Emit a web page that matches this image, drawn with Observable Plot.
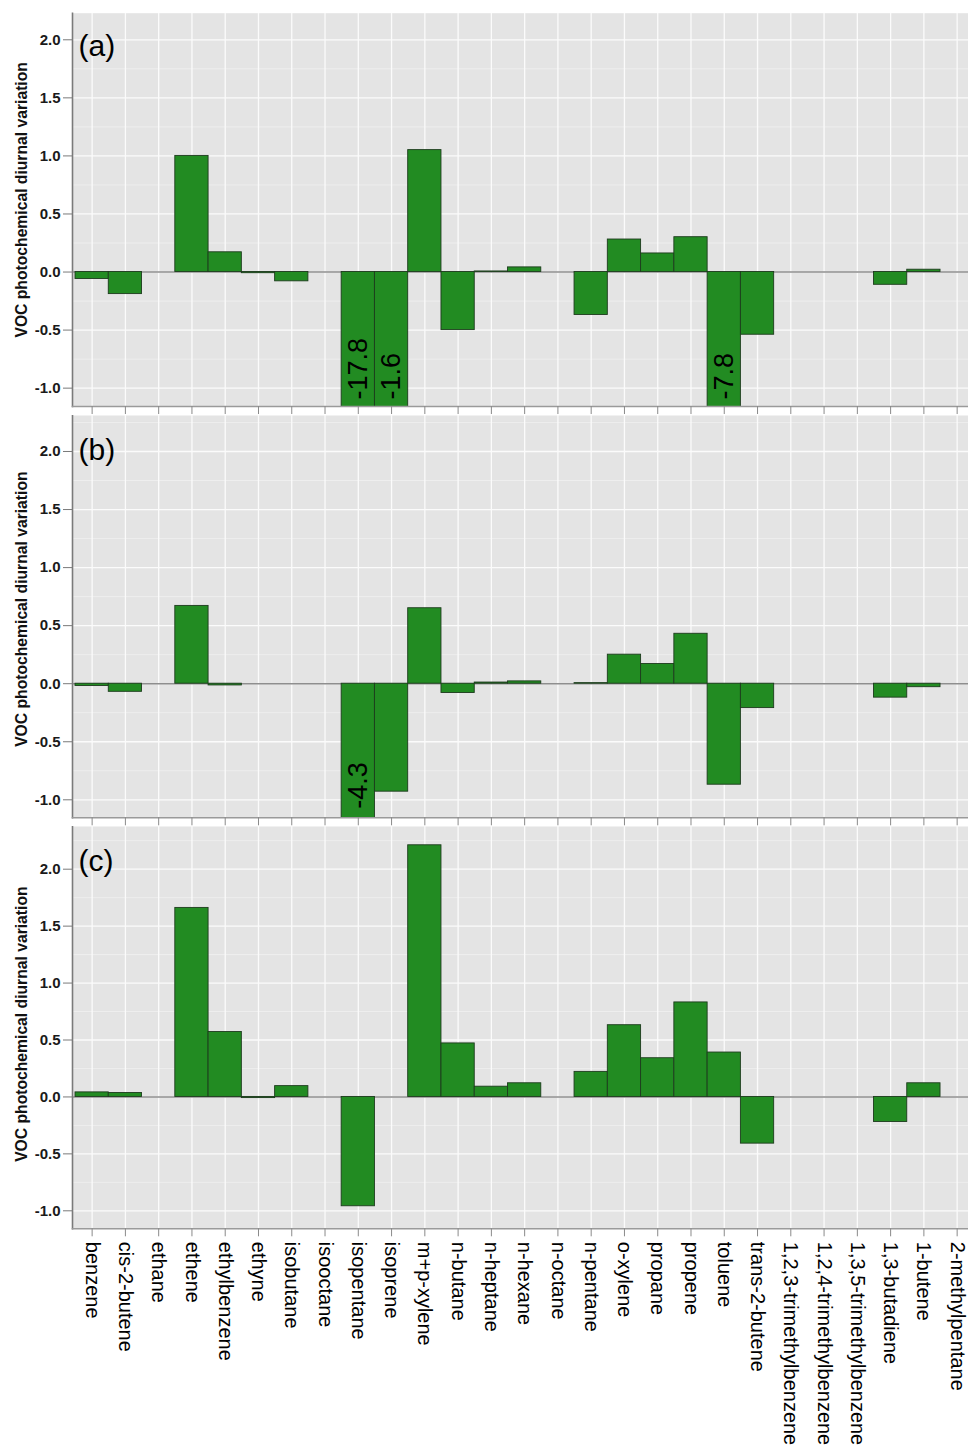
<!DOCTYPE html>
<html>
<head>
<meta charset="utf-8">
<script src="https://cdn.jsdelivr.net/npm/d3@7"></script>
<script src="https://cdn.jsdelivr.net/npm/@observablehq/plot@0.6"></script>
<style>
  body { margin: 0; background: #fff; }
  #chart svg { display: block; }
</style>
</head>
<body>
<div id="chart"></div>
<script>
// VOC species along the shared x axis
const compounds = [
  "benzene", "cis-2-butene", "ethane", "ethene", "ethylbenzene", "ethyne",
  "isobutane", "isooctane", "isopentane", "isoprene", "m+p-xylene", "n-butane",
  "n-heptane", "n-hexane", "n-octane", "n-pentane", "o-xylene", "propane",
  "propene", "toluene", "trans-2-butene", "1,2,3-trimethylbenzene",
  "1,2,4-trimethylbenzene", "1,3,5-trimethylbenzene", "1,3-butadiene",
  "1-butene", "2-methylpentane"
];

// Photochemical diurnal variation per species (null = no bar)
const seriesA = [-0.06, -0.19, null, 1.00, 0.17, -0.01, -0.08, null, -17.8, -1.6,
  1.05, -0.50, 0.005, 0.04, null, -0.37, 0.28, 0.16, 0.30, -7.8, -0.54,
  null, null, null, -0.11, 0.02, null];
const seriesB = [-0.02, -0.07, null, 0.67, -0.015, null, null, null, -4.3, -0.93,
  0.65, -0.08, 0.01, 0.02, null, 0.005, 0.25, 0.17, 0.43, -0.87, -0.21,
  null, null, null, -0.12, -0.03, null];
const seriesC = [0.04, 0.035, null, 1.66, 0.57, -0.01, 0.095, null, -0.96, null,
  2.21, 0.47, 0.09, 0.12, null, 0.22, 0.63, 0.34, 0.83, 0.39, -0.41,
  null, null, null, -0.22, 0.12, null];

const panelLabels = ["(a)", "(b)", "(c)"];
const yTicks = [-1.0, -0.5, 0.0, 0.5, 1.0, 1.5, 2.0];
const yMinorTicks = [-0.75, -0.25, 0.25, 0.75, 1.25, 1.75, 2.25];
const yTitle = "VOC photochemical diurnal variation";

const FONT = "'Liberation Sans', Arial, Helvetica, sans-serif";
const BAND = 33.27;
const X0 = 75.0;

function panel(values, label, cfg) {
  const rows = compounds
    .map((name, i) => ({name, value: values[i]}))
    .filter(d => d.value != null);
  const offScale = rows.filter(d => d.value < cfg.yDomain[0]);

  return Plot.plot({
    width: 968,
    height: cfg.height,
    marginTop: cfg.marginTop,
    marginBottom: cfg.marginBottom,
    marginLeft: 72,
    marginRight: 0,
    style: {fontFamily: FONT, background: "#fff", overflow: "hidden"},
    x: {
      type: "band", domain: compounds,
      range: [X0, X0 + compounds.length * BAND],
      padding: 0, round: false, axis: null
    },
    y: {domain: cfg.yDomain, axis: null},
    marks: [
      Plot.frame({fill: "#e4e4e4", stroke: null}),
      Plot.gridY(yMinorTicks, {stroke: "#f0f0f0", strokeOpacity: 1, strokeWidth: 0.8, clip: true}),
      Plot.gridY(yTicks, {stroke: "#fbfbfb", strokeOpacity: 1, strokeWidth: 1.3, clip: true}),
      Plot.gridX({stroke: "#fbfbfb", strokeOpacity: 1, strokeWidth: 1.3, clip: true}),
      Plot.ruleY([0], {stroke: "#8e8e8e", strokeWidth: 1.6, clip: true}),
      Plot.barY(rows, {
        x: "name", y: "value",
        fill: "#228b22", stroke: "#1d3b1d", strokeWidth: 0.9, clip: true
      }),
      // values that run far below the axis are written inside their bar
      Plot.text(offScale, {
        x: "name", y: () => cfg.yDomain[0],
        text: d => d.value.toFixed(1),
        rotate: -90, textAnchor: "start", dy: -cfg.valueInset,
        fontSize: 27, fill: "#000", fontFamily: FONT
      }),
      Plot.text([label], {
        frameAnchor: "top-left", dx: 6, dy: cfg.labelDy,
        textAnchor: "start", lineAnchor: "middle",
        fontSize: 30, fill: "#000", fontFamily: FONT
      }),
      Plot.text([yTitle], {
        frameAnchor: "left", dx: -50.5, dy: cfg.titleDy,
        rotate: -90, textAnchor: "middle", lineAnchor: "middle",
        fontSize: 15.7, fontWeight: "bold", fill: "#111", fontFamily: FONT
      }),
      Plot.frame({anchor: "left", stroke: "#7a7a7a", strokeWidth: 1.6}),
      Plot.frame({anchor: "bottom", stroke: "#9a9a9a", strokeWidth: 1.6}),
      Plot.axisY(yTicks, {
        tickFormat: d => d.toFixed(1),
        tickSize: 9, tickPadding: 3,
        stroke: "#7a7a7a", fill: "#1a1a1a",
        fontSize: 15, fontWeight: "bold", label: null
      }),
      Plot.axisX({
        tickSize: 8, tickPadding: 5,
        tickRotate: 90,
        tickFormat: cfg.showX ? (d => d) : (() => ""),
        stroke: "#8a8a8a", fill: "#000",
        fontSize: 20, label: null
      })
    ]
  });
}

const chart = document.getElementById("chart");
chart.append(panel(seriesA, panelLabels[0], {
  height: 415, marginTop: 12.7, marginBottom: 9,
  yDomain: [-1.158, 2.229], labelDy: 33, titleDy: -10, valueInset: 7, showX: false
}));
chart.append(panel(seriesB, panelLabels[1], {
  height: 411, marginTop: 0, marginBottom: 8.7,
  yDomain: [-1.155, 2.31], labelDy: 35, titleDy: -7.5, valueInset: 9, showX: false
}));
chart.append(panel(seriesC, panelLabels[2], {
  height: 628, marginTop: 0, marginBottom: 225.7,
  yDomain: [-1.158, 2.375], labelDy: 35, titleDy: -3.5, valueInset: 8, showX: true
}));
</script>
</body>
</html>
